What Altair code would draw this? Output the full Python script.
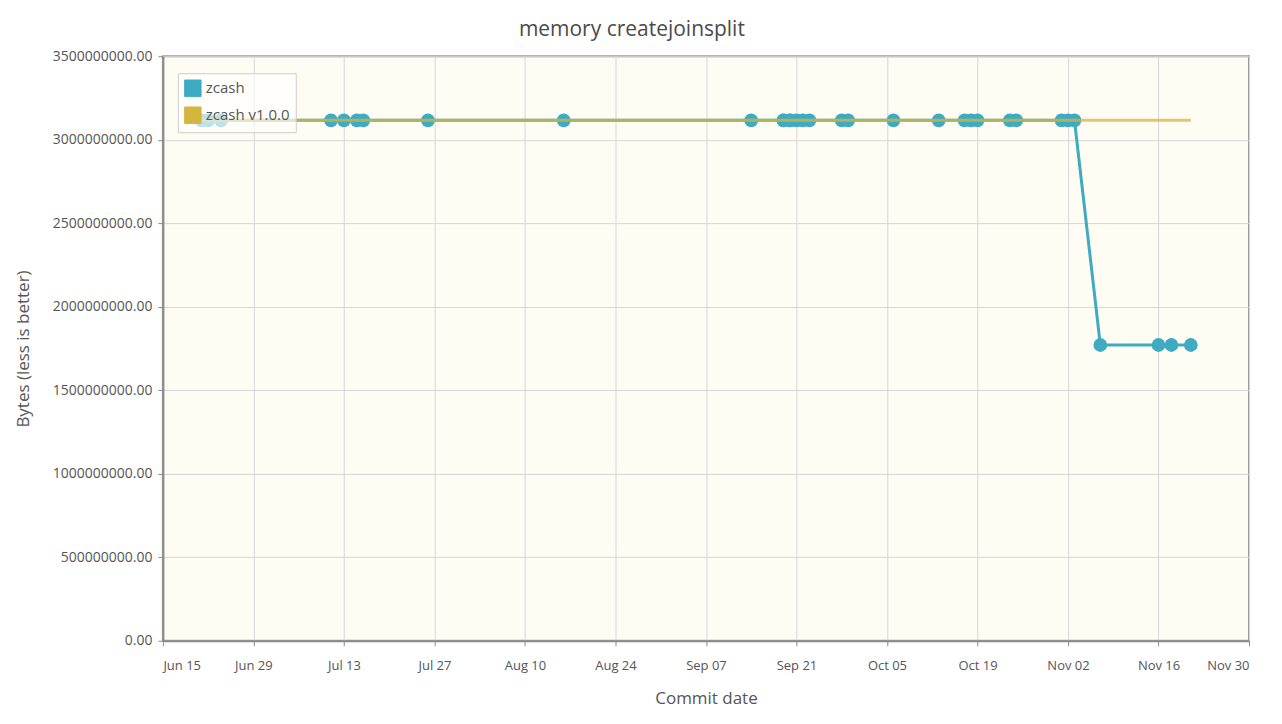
import altair as alt
import pandas as pd

zcash_dates = [
    "2016-06-21", "2016-06-22", "2016-06-24", "2016-07-11", "2016-07-13",
    "2016-07-15", "2016-07-16", "2016-07-26", "2016-08-16", "2016-09-14",
    "2016-09-19", "2016-09-19", "2016-09-20", "2016-09-20", "2016-09-21",
    "2016-09-22", "2016-09-23", "2016-09-28", "2016-09-29", "2016-10-06",
    "2016-10-13", "2016-10-17", "2016-10-18", "2016-10-19", "2016-10-24",
    "2016-10-25", "2016-11-01", "2016-11-02", "2016-11-03", "2016-11-07",
    "2016-11-16", "2016-11-18", "2016-11-21",
]
zcash_values = [3116000000.0] * 29 + [1771000000.0] * 4

v100_dates = ["2016-06-20", "2016-11-21"]
v100_values = [3116000000.0, 3116000000.0]

series_names = ["zcash", "zcash v1.0.0"]
series_colors = ["#3eabc3", "#d4b53e"]

x_ticks = ["2016-06-15", "2016-06-29", "2016-07-13", "2016-07-27", "2016-08-10",
           "2016-08-24", "2016-09-07", "2016-09-21", "2016-10-05", "2016-10-19",
           "2016-11-02", "2016-11-16", "2016-11-30"]
y_ticks = [0, 500000000, 1000000000, 1500000000, 2000000000, 2500000000,
           3000000000, 3500000000]

zdf = pd.DataFrame({"date": zcash_dates, "value": zcash_values, "series": series_names[0]})
vdf = pd.DataFrame({"date": v100_dates, "value": v100_values, "series": series_names[1]})
legdf = pd.DataFrame({"series": series_names})


def dt(s):
    y, m, d = s.split("-")
    return alt.DateTime(year=int(y), month=int(m), date=int(d), utc=True)


month_expr = ("['Jan','Feb','Mar','Apr','May','Jun','Jul','Aug','Sep','Oct','Nov','Dec']"
              "[utcmonth(datum.value)] + ' ' + (utcdate(datum.value) < 10 ? '0' : '') + utcdate(datum.value)")

color_scale = alt.Scale(domain=series_names, range=series_colors)
x_enc = alt.X(
    "date:T",
    title="Commit date",
    scale=alt.Scale(type="utc", domain=[dt(x_ticks[0]), dt(x_ticks[-1])]),
    axis=alt.Axis(values=[dt(t) for t in x_ticks], labelExpr=month_expr,
                  labelFontSize=13, titleFontSize=17, titlePadding=18, labelPadding=14),
)
y_enc = alt.Y(
    "value:Q",
    title="Bytes (less is better)",
    scale=alt.Scale(domain=[0, 3500000000]),
    axis=alt.Axis(values=y_ticks, format=".2f", labelFontSize=14, titleFontSize=17,
                  titlePadding=20, labelPadding=6),
)

legend = alt.Legend(
    title=None, orient="none", legendX=15, legendY=17, symbolType="square",
    symbolSize=270, symbolStrokeColor="#dddddd", symbolStrokeWidth=1,
    labelFontSize=15, labelColor="#555555", fillColor="rgba(255,255,255,0.65)",
    strokeColor="#cccccc", padding=6, rowPadding=5, symbolOpacity=1,
)

# legend carrier: filled squares, drawn invisibly (opacity 0) so only the legend shows
leg_layer = alt.Chart(legdf).mark_square(filled=True, opacity=0, size=10).encode(
    x=alt.value(0), y=alt.value(0),
    color=alt.Color("series:N", scale=color_scale, legend=legend),
)
line_z = alt.Chart(zdf).mark_line(strokeWidth=3).encode(
    x=x_enc, y=y_enc,
    color=alt.Color("series:N", scale=color_scale, legend=legend),
)
pts_z = alt.Chart(zdf).mark_point(filled=True, size=190, opacity=1).encode(
    x=x_enc, y=y_enc,
    color=alt.Color("series:N", scale=color_scale, legend=legend),
)
line_v = alt.Chart(vdf).mark_line(strokeWidth=3, opacity=0.75).encode(
    x=x_enc, y=y_enc,
    color=alt.Color("series:N", scale=color_scale, legend=legend),
)

chart = alt.layer(leg_layer, line_z, pts_z, line_v).properties(
    width=1087, height=585,
    title=alt.TitleParams("memory createjoinsplit", fontSize=21, color="#4a4a4a",
                          font="Open Sans", fontWeight="normal", offset=9,
                          frame="bounds", anchor="middle"),
    autosize=alt.AutoSizeParams(type="none"),
    padding={"left": 155, "top": 48, "right": 25, "bottom": 70},
).configure_view(
    fill="#fffcf4", stroke="#9a9a9a", strokeWidth=2,
).configure_axis(
    labelFont="Open Sans", titleFont="Open Sans", labelColor="#555555",
    titleColor="#555555", titleFontWeight="normal", gridColor="#d6d6d6",
    domainColor="#8a8a8a", domainWidth=2, tickColor="#8a8a8a", tickSize=5,
).configure_legend(
    labelFont="Open Sans",
)

chart.save("out.html", embed_options={"renderer": "svg", "actions": False})
